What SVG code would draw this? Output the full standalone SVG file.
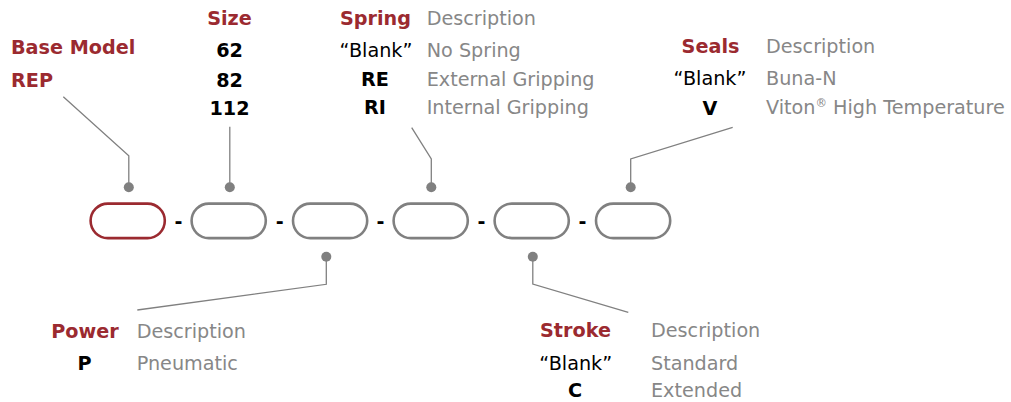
<svg xmlns="http://www.w3.org/2000/svg" width="1011" height="402" viewBox="0 0 1011 402">
<style>
text{font-family:"DejaVu Sans","Liberation Sans",sans-serif;font-size:19.2px}
.h{font-weight:bold;fill:#9B2A30}
.c{font-weight:bold;fill:#000;text-anchor:middle}
.b{fill:#000;text-anchor:middle}
.hc{text-anchor:middle}
.d{fill:#878787}
.pill{fill:none;stroke:#808080;stroke-width:2.6}
.pill.red{stroke:#9B2A30}
.ln{fill:none;stroke:#808080;stroke-width:1.3}
.dot{fill:#808080}
.dash{font-weight:bold;fill:#000;text-anchor:middle}
</style>
<rect width="1011" height="402" fill="#fff"/>
<g id="connectors">
<polyline class="ln" points="63.3,96.7 128.8,155.7 128.8,187"/>
<circle class="dot" cx="128.8" cy="187.3" r="5"/>
<polyline class="ln" points="229.8,126.7 229.8,187"/>
<circle class="dot" cx="229.8" cy="187.3" r="5"/>
<polyline class="ln" points="411.7,127.7 431.3,159 431.3,187"/>
<circle class="dot" cx="431.3" cy="187.3" r="5"/>
<polyline class="ln" points="732.7,127.3 630.7,159 630.7,187"/>
<circle class="dot" cx="630.7" cy="187.3" r="5"/>
<polyline class="ln" points="326.3,257 326.3,284.3 137.3,310"/>
<circle class="dot" cx="326.3" cy="256.7" r="5"/>
<polyline class="ln" points="532.8,257 532.8,284 628.3,312.3"/>
<circle class="dot" cx="532.8" cy="256.7" r="5"/>
</g>
<g id="pills">
<rect class="pill red" x="90.6" y="203.6" width="74.2" height="34.5" rx="17.25"/>
<text class="dash" x="178.5" y="227.8">-</text>
<rect class="pill" x="191.6" y="203.6" width="74.2" height="34.5" rx="17.25"/>
<text class="dash" x="279.8" y="227.8">-</text>
<rect class="pill" x="293" y="203.6" width="74.2" height="34.5" rx="17.25"/>
<text class="dash" x="380.4" y="227.8">-</text>
<rect class="pill" x="393.6" y="203.6" width="74.2" height="34.5" rx="17.25"/>
<text class="dash" x="481.5" y="227.8">-</text>
<rect class="pill" x="494.6" y="203.6" width="74.2" height="34.5" rx="17.25"/>
<text class="dash" x="582.5" y="227.8">-</text>
<rect class="pill" x="596" y="203.6" width="74.2" height="34.5" rx="17.25"/>
</g>
<g id="base-model">
<text class="h" x="11" y="54.3">Base Model</text>
<text class="h" x="11" y="86.7">REP</text>
</g>
<g id="size">
<text class="h hc" x="229.5" y="25">Size</text>
<text class="c" x="229.5" y="57.3">62</text>
<text class="c" x="229.5" y="86.7">82</text>
<text class="c" x="229.5" y="115">112</text>
</g>
<g id="spring">
<text class="h hc" x="375.5" y="25">Spring</text>
<text class="d" x="426.7" y="25">Description</text>
<text class="b" x="376" y="56.7">“Blank”</text>
<text class="d" x="426.7" y="56.7">No Spring</text>
<text class="c" x="375" y="85.7">RE</text>
<text class="d" x="426.7" y="85.7">External Gripping</text>
<text class="c" x="375" y="114">RI</text>
<text class="d" x="426.7" y="114">Internal Gripping</text>
</g>
<g id="seals">
<text class="h hc" x="710.5" y="53.3">Seals</text>
<text class="d" x="766" y="53.3">Description</text>
<text class="b" x="710" y="85">“Blank”</text>
<text class="d" x="766" y="85">Buna-N</text>
<text class="c" x="710" y="114.7">V</text>
<text class="d" x="766" y="114.3">Viton<tspan font-size="11.5" dy="-7">®</tspan><tspan dy="7"> High Temperature</tspan></text>
</g>
<g id="power">
<text class="h hc" x="85" y="338.3">Power</text>
<text class="d" x="136.7" y="338.3">Description</text>
<text class="c" x="84.5" y="370">P</text>
<text class="d" x="136.7" y="370">Pneumatic</text>
</g>
<g id="stroke">
<text class="h hc" x="575.5" y="337.3">Stroke</text>
<text class="d" x="651" y="337.3">Description</text>
<text class="b" x="575.7" y="370">“Blank”</text>
<text class="d" x="651" y="370">Standard</text>
<text class="c" x="575" y="397.3">C</text>
<text class="d" x="651" y="397.3">Extended</text>
</g>
</svg>
